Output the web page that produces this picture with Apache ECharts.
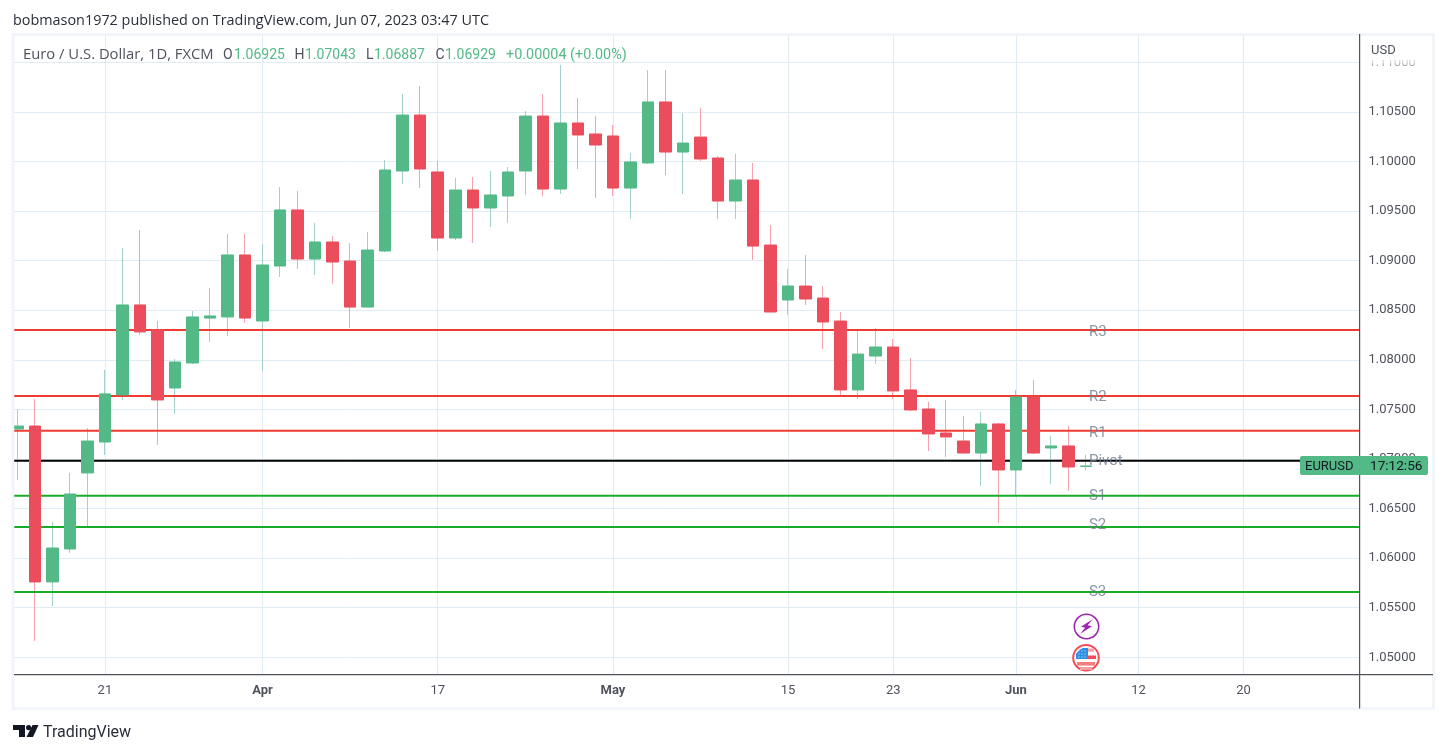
<!DOCTYPE html>
<html><head><meta charset="utf-8">
<style>html,body{margin:0;padding:0;background:#fff}#c{width:1447px;height:753px}</style>
<script src="https://cdn.jsdelivr.net/npm/echarts@6/dist/echarts.min.js"></script>
</head><body><div id="c"></div>
<script>
const opens=[1.07302,1.07332,1.05760,1.06092,1.06859,1.07171,1.07646,1.08553,1.08301,1.07716,1.07968,1.08421,1.08432,1.09057,1.08391,1.08946,1.09511,1.09016,1.09188,1.08996,1.08532,1.09097,1.09904,1.10468,1.09894,1.09228,1.09712,1.09531,1.09652,1.09904,1.10458,1.09722,1.10388,1.10277,1.10257,1.09732,1.09985,1.10600,1.10095,1.10246,1.10035,1.09601,1.09813,1.09157,1.08603,1.08744,1.08623,1.08391,1.07696,1.08038,1.08129,1.07696,1.07504,1.07262,1.07181,1.07060,1.07353,1.06889,1.07625,1.07111,1.07131,1.06925];
const closes=[1.07332,1.05760,1.06102,1.06647,1.07181,1.07656,1.08553,1.08281,1.07595,1.07978,1.08432,1.08442,1.09057,1.08421,1.08956,1.09511,1.09016,1.09188,1.08986,1.08532,1.09107,1.09914,1.10468,1.09924,1.09228,1.09712,1.09531,1.09662,1.09894,1.10458,1.09722,1.10388,1.10267,1.10166,1.09732,1.09995,1.10600,1.10095,1.10186,1.10025,1.09601,1.09813,1.09147,1.08482,1.08744,1.08613,1.08381,1.07696,1.08058,1.08129,1.07686,1.07494,1.07252,1.07222,1.07060,1.07353,1.06889,1.07625,1.07060,1.07131,1.06919,1.06929];
const lows=[1.06788,1.05164,1.05517,1.06052,1.06314,1.07040,1.07595,1.08250,1.07141,1.07453,1.07958,1.08180,1.08240,1.08371,1.07887,1.08835,1.08916,1.08855,1.08765,1.08321,1.08532,1.09087,1.09773,1.09732,1.09097,1.09208,1.09178,1.09339,1.09380,1.09662,1.09652,1.09672,1.09924,1.09632,1.09652,1.09420,1.09975,1.09863,1.09672,1.10005,1.09420,1.09420,1.09006,1.08482,1.08452,1.08553,1.08109,1.07635,1.07605,1.07958,1.07605,1.07484,1.07080,1.07020,1.07060,1.06728,1.06355,1.06627,1.07050,1.06748,1.06677,1.06887];
const highs=[1.07504,1.07605,1.06365,1.06859,1.07312,1.07897,1.09127,1.09309,1.08391,1.08008,1.08492,1.08724,1.09269,1.09269,1.09168,1.09742,1.09702,1.09380,1.09248,1.09178,1.09289,1.10015,1.10680,1.10761,1.10005,1.09833,1.09843,1.09904,1.09944,1.10509,1.10680,1.10973,1.10640,1.10458,1.10368,1.10085,1.10922,1.10922,1.10488,1.10539,1.10055,1.10075,1.09985,1.09359,1.08916,1.09057,1.08744,1.08482,1.08291,1.08321,1.08210,1.08018,1.07575,1.07595,1.07433,1.07474,1.07363,1.07696,1.07796,1.07232,1.07332,1.07043];
const levelNames=['R3','R2','R1','Pivot','S1','S2','S3'];
const levelValues=[1.08300,1.07635,1.07285,1.06982,1.06630,1.06314,1.05658];
const levelColors=['#f23b30','#f23b30','#f23b30','#000000','#19ab2a','#19ab2a','#19ab2a'];
const priceTicks=[1.05,1.055,1.06,1.065,1.07,1.075,1.08,1.085,1.09,1.095,1.10,1.105,1.11];
const dateTickIndex=[5,14,24,34,44,50,57,64,70];
const dateTickLabels=['21','Apr','17','May','15','23','Jun','12','20'];
const monthLabels=['Apr','May','Jun'];

const UP='#53b987',DOWN='#eb4d5c',WICK_UP='#a3cfcc',WICK_DOWN='#f7a3ae';
const XMIN=-0.188,XMAX=76.616,YMIN=1.048316,YMAX=1.112652;
const FONT='Roboto, sans-serif';
const TEXTFONT='"Open Sans", sans-serif';
const LABEL_NUDGE={R3:2,R2:1.5,R1:3,Pivot:0,S1:1,S2:-2,S3:0};

const wickData=opens.map((o,i)=>[i,o,closes[i],lows[i],highs[i]]);
const bodyData=opens.map((o,i)=>[i,o,closes[i],Math.min(o,closes[i]),Math.max(o,closes[i])]);

function txt(x,y,text,fill,size,font){return {type:'text',z:50,silent:true,style:{x,y,text,fill,font:(size||14)+'px '+(font||FONT),textVerticalAlign:'middle',textAlign:'left'}};}
function rect(x,y,w,h,fill,z){return {type:'rect',z:z||40,silent:true,shape:{x,y,width:w,height:h},style:{fill}};}

const GRAY='#50535e',GREEN='#53b987';
const dots=[];
[1078.5,1081.5,1084.5].forEach(x=>[650.5,653.5,656.5].forEach(y=>dots.push(rect(x,y,1,1,'#cfe6fb',33))));
const graphics=[
  rect(0,400,12,60,'#ffffff',44),
  {type:'rect',z:45,silent:true,shape:{x:13,y:34.5,width:1420.5,height:674},style:{fill:'none',stroke:'#f0f3fa',lineWidth:2.5}},
  rect(1359,34,1.2,674.5,'#50535e',46),
  rect(14,674,1419,1.2,'#50535e',46),
  rect(1361,36,72,24.5,'#ffffff'),
  {type:'rect',z:40,silent:true,shape:{x:1361,y:60.5,width:72,height:6},style:{fill:{type:'linear',x:0,y:0,x2:0,y2:1,colorStops:[{offset:0,color:'rgba(255,255,255,0.9)'},{offset:1,color:'rgba(255,255,255,0.4)'}]}}},
  txt(1371,51,'USD',GRAY,13),
  txt(13,21,'bobmason1972 published on TradingView.com, Jun 07, 2023 03:47 UTC','#2a2e39',14.4,TEXTFONT),
  txt(23,55,'Euro / U.S. Dollar, 1D, FXCM',GRAY,14.8,TEXTFONT),
  txt(223,55,'O',GRAY,14),txt(234,55,'1.06925',GREEN,14),
  txt(294.5,55,'H',GRAY,14),txt(305,55,'1.07043',GREEN,14),
  txt(366,55,'L',GRAY,14),txt(374,55,'1.06887',GREEN,14),
  txt(435.5,55,'C',GRAY,14),txt(445,55,'1.06929',GREEN,14),
  txt(506,55,'+0.00004 (+0.00%)',GREEN,14.4),
  {type:'rect',z:47,silent:true,shape:{x:1300,y:456,width:128,height:19,r:2},style:{fill:'#53b987'}},
  txt(1305,466.5,'EURUSD','#131722',13),
  txt(1370,466.5,'17:12:56','#131722',13.6),
  {type:'circle',z:30,silent:true,shape:{cx:1086.5,cy:626.5,r:12.2},style:{fill:'#fff',stroke:'#9c27b0',lineWidth:1.6}},
  {type:'polygon',z:31,silent:true,shape:{points:[[1093,619],[1081,626.8],[1085.2,627.8],[1080,634],[1092,626.3],[1087.6,625.3]]},style:{fill:'#9c27b0'}},
  {type:'circle',z:30,silent:true,shape:{cx:1086,cy:657.7,r:12.8},style:{fill:'#fff',stroke:'#f44b55',lineWidth:2}},
  rect(1088,648.5,6,3.2,'#f89da1',31),
  rect(1088,655.5,8,3.6,'#f44b55',31),
  rect(1077,662,18,3.6,'#f77c80',31),
  rect(1080,667,12,3,'#f89da1',31),
  {type:'polygon',z:32,silent:true,shape:{points:[[1076,659],[1076,654],[1079,650],[1083,648],[1088,648],[1088,659]]},style:{fill:'#2f8fe6'}},
  ...dots,
  {type:'polygon',z:30,silent:true,shape:{points:[[13,725],[25,725],[25,737],[19,737],[19,730],[13,730]]},style:{fill:'#131722'}},
  {type:'circle',z:30,silent:true,shape:{cx:28.6,cy:727.6,r:2.6},style:{fill:'#131722'}},
  {type:'polygon',z:30,silent:true,shape:{points:[[32.5,725],[38.5,725],[33,737],[26.5,737]]},style:{fill:'#131722'}},
  txt(43,732.5,'TradingView','#2a2e39',16)
];

const chart=echarts.init(document.getElementById('c'),null,{renderer:'canvas'});
chart.setOption({
  animation:false,backgroundColor:'#ffffff',
  grid:{left:14,right:87.5,top:36,bottom:79,containLabel:false},
  xAxis:{type:'value',min:XMIN,max:XMAX,
    axisLine:{show:false,onZero:false},
    axisTick:{show:false,customValues:dateTickIndex},
    splitLine:{show:true,lineStyle:{color:'#e1ecf2',width:1}},
    axisLabel:{customValues:dateTickIndex,margin:10,color:GRAY,fontSize:13,fontFamily:FONT,
      formatter:v=>{const s=dateTickLabels[dateTickIndex.indexOf(v)];return monthLabels.includes(s)?'{b|'+s+'}':s;},
      rich:{b:{fontWeight:'bold',color:GRAY,fontSize:13,fontFamily:FONT}}}
  },
  yAxis:{type:'value',position:'right',min:YMIN,max:YMAX,scale:true,
    axisLine:{show:false},
    axisTick:{show:false,customValues:priceTicks},
    splitLine:{show:true,lineStyle:{color:'#e1ecf2',width:1}},
    axisLabel:{customValues:priceTicks,margin:9,color:GRAY,fontSize:13,fontFamily:FONT,padding:[3,0,0,0],formatter:v=>v.toFixed(5)}
  },
  series:[
    {type:'candlestick',name:'wicks',z:2,barWidth:1,silent:true,data:wickData,
      itemStyle:{color:WICK_UP,color0:WICK_DOWN,borderColor:WICK_UP,borderColor0:WICK_DOWN,borderWidth:1}},
    ...levelNames.map((n,k)=>({type:'line',name:n,z:3,silent:true,symbol:'none',showSymbol:false,
      data:[[XMIN,levelValues[k]],[XMAX,levelValues[k]]],lineStyle:{color:levelColors[k],width:2}})),
    {type:'candlestick',name:'EURUSD',z:4,barWidth:12,silent:true,data:bodyData,
      itemStyle:{color:UP,color0:DOWN,borderColor:UP,borderColor0:DOWN,borderWidth:1}},
    {type:'scatter',name:'levelLabels',z:5,silent:true,symbolSize:0,
      data:levelNames.map((n,k)=>({name:n,value:[opens.length-1,levelValues[k]],label:{offset:[0,LABEL_NUDGE[n]]}})),
      label:{show:true,position:'right',distance:3,formatter:p=>p.name,color:'#6e7d8c',fontSize:15,fontFamily:FONT}}
  ],
  graphic:graphics
});
</script></body></html>
